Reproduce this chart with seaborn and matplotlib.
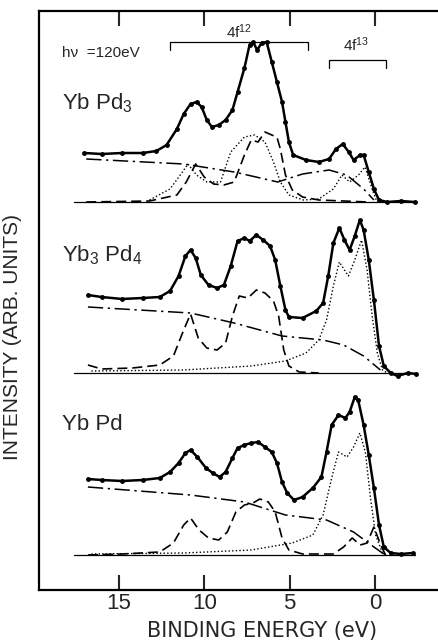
import matplotlib
matplotlib.use("Agg")
import matplotlib.pyplot as plt
import seaborn as sns

sns.set_style("white")
plt.rcParams["font.family"] = ["Liberation Sans", "DejaVu Sans"]
plt.rcParams["mathtext.default"] = "regular"

# ---- YbPd3 (binding energy in eV, intensity above its own baseline) ----
ybpd3_e = [17.0, 16.0, 14.8, 13.6, 12.8, 12.2, 11.6, 11.2, 10.8, 10.45, 10.15, 9.85, 9.55,
           9.15, 8.75, 8.35, 8.05, 7.65, 7.35, 7.15, 6.9, 6.65, 6.35, 6.05, 5.75, 5.45,
           5.25, 5.05, 4.8, 4.05, 3.3, 2.7, 2.3, 1.9, 1.55, 1.27, 0.88, 0.68, 0.38, 0.08,
           -0.22, -0.7, -1.5, -2.3]
ybpd3_i = [49, 48, 49, 49, 51, 57, 73, 88, 98, 100, 95, 82, 75,
           77, 82, 92, 110, 134, 157, 160, 152, 159, 160, 140, 120, 100,
           80, 60, 47, 42, 40, 43, 53, 58, 50, 42, 47, 47, 30, 13,
           2, 0, 1, 0]
ybpd3_dash_e = [16.9, 13.2, 11.6, 11.05, 10.5, 10.0, 9.45, 8.85, 8.25, 7.65, 7.25, 6.85, 6.45,
                6.05, 5.75, 5.55, 5.25, 4.85, 4.25, 3.3, 0.4]
ybpd3_dash_i = [0, 1, 7, 20, 38, 25, 18, 17, 20, 47, 62, 60, 70,
                67, 65, 53, 27, 12, 5, 2, 0]
ybpd3_dot_e = [13.2, 12.0, 11.4, 10.95, 10.45, 9.85, 9.05, 8.45, 7.65, 7.05, 6.45, 5.95, 5.55,
               5.05, 4.2, 3.3, 2.45, 1.95, 1.5, 0.98, 0.6, 0.18, -0.1]
ybpd3_dot_i = [2, 13, 27, 38, 27, 20, 20, 50, 65, 67, 60, 40, 20,
               7, 2, 3, 13, 27, 20, 27, 35, 13, 0]
ybpd3_bg_e = [16.9, 11.2, 8.25, 5.7, 4.25, 2.7, 1.67, 0.68, 0.08]
ybpd3_bg_i = [43, 38, 30, 20, 28, 32, 27, 13, 2]

# ---- Yb3Pd4 ----
yb3pd4_e = [16.8, 16.0, 14.8, 13.6, 12.6, 12.0, 11.5, 11.1, 10.8, 10.5, 10.2, 9.75, 9.25,
            8.85, 8.45, 8.05, 7.65, 7.35, 6.95, 6.55, 6.15, 5.85, 5.55, 5.25, 5.05, 4.25,
            3.45, 3.05, 2.75, 2.45, 2.1, 1.8, 1.5, 1.2, 0.9, 0.68, 0.38, 0.08, -0.22,
            -0.5, -0.9, -1.3, -1.9, -2.4]
yb3pd4_i = [78, 76, 74, 75, 76, 82, 97, 117, 123, 115, 98, 88, 85,
            88, 107, 132, 135, 132, 138, 133, 127, 113, 87, 63, 56, 55,
            62, 70, 97, 130, 145, 133, 123, 137, 153, 143, 113, 73, 27,
            7, 0, -3, 0, -1]
yb3pd4_dash_e = [16.8, 16.0, 14.2, 12.6, 11.8, 11.2, 10.8, 10.35, 9.85, 9.25, 8.75, 8.35, 7.95,
                 7.45, 6.95, 6.45, 5.95, 5.65, 5.35, 5.05, 4.45, 3.3]
yb3pd4_dash_i = [8, 4, 5, 8, 17, 43, 59, 35, 25, 23, 30, 57, 77,
                 75, 83, 80, 72, 57, 23, 7, 1, 0]
yb3pd4_dot_e = [16.6, 11.2, 7.25, 5.25, 4.05, 3.3, 2.85, 2.45, 2.1, 1.57, 1.2, 0.8, 0.48,
                0.18, -0.12, -0.42, -0.7]
yb3pd4_dot_i = [2, 3, 7, 12, 20, 33, 53, 87, 111, 97, 113, 133, 103,
                57, 20, 3, 0]
yb3pd4_bg_e = [16.8, 10.8, 8.25, 5.45, 3.05, 1.85, 0.68, -0.3]
yb3pd4_bg_i = [66, 60, 50, 37, 33, 28, 17, 3]

# ---- YbPd ----
ybpd_e = [16.8, 16.0, 14.8, 13.6, 12.6, 12.0, 11.5, 11.1, 10.8, 10.4, 9.9, 9.5, 9.1,
          8.75, 8.35, 8.05, 7.65, 7.25, 6.85, 6.45, 6.05, 5.75, 5.45, 5.15, 4.75, 4.25,
          3.65, 3.15, 2.85, 2.55, 2.15, 1.75, 1.5, 1.2, 1.0, 0.68, 0.38, 0.08, -0.22,
          -0.5, -0.9, -1.5, -2.2]
ybpd_i = [76, 75, 74, 75, 77, 83, 92, 102, 105, 98, 87, 82, 78,
          83, 97, 107, 110, 112, 113, 108, 103, 92, 73, 62, 55, 58,
          67, 78, 103, 130, 140, 137, 143, 158, 155, 130, 100, 67, 30,
          8, 2, 1, 2]
ybpd_dash_e = [16.8, 14.8, 12.6, 11.8, 11.2, 10.8, 10.3, 9.75, 9.15, 8.65, 8.15, 7.65, 7.15,
               6.75, 6.25, 5.85, 5.45, 5.05, 4.25, 2.45, 1.85, 1.35, 0.88, 0.48, 0.08, -0.32,
               -0.6]
ybpd_dash_i = [0, 1, 3, 12, 30, 37, 25, 17, 15, 23, 43, 50, 52,
               56, 53, 43, 17, 5, 1, 1, 8, 17, 10, 12, 28, 10,
               0]
ybpd_dot_e = [16.6, 11.2, 7.25, 4.85, 3.65, 3.05, 2.55, 2.15, 1.65, 1.27, 0.9, 0.58, 0.28,
              -0.02, -0.42, -0.7]
ybpd_dot_i = [1, 2, 5, 12, 20, 40, 77, 103, 98, 108, 122, 103, 57,
              20, 2, 0]
ybpd_bg_e = [16.8, 10.8, 7.65, 5.25, 2.85, 1.27, 0.08, -0.5]
ybpd_bg_i = [68, 60, 53, 40, 35, 23, 8, 1]

baseline_e = [17.6, -2.3]
x_ticks = [15, 10, 5, 0]

spectra = [
    ("Yb Pd$_3$", 388, ybpd3_e, ybpd3_i, ybpd3_dash_e, ybpd3_dash_i,
     ybpd3_dot_e, ybpd3_dot_i, ybpd3_bg_e, ybpd3_bg_i),
    ("Yb$_3$ Pd$_4$", 217, yb3pd4_e, yb3pd4_i, yb3pd4_dash_e, yb3pd4_dash_i,
     yb3pd4_dot_e, yb3pd4_dot_i, yb3pd4_bg_e, yb3pd4_bg_i),
    ("Yb Pd", 35, ybpd_e, ybpd_i, ybpd_dash_e, ybpd_dash_i,
     ybpd_dot_e, ybpd_dot_i, ybpd_bg_e, ybpd_bg_i),
]
label_y = [487, 335, 165]

fig = plt.figure(figsize=(4.38, 6.4), dpi=100)
ax = fig.add_axes([39 / 438, 50 / 640, 1.02 - 39 / 438, 579 / 640])

for (name, off, e, i, de, di, te, ti, be, bi), ly in zip(spectra, label_y):
    sns.lineplot(x=baseline_e, y=[off, off], ax=ax, color="k", lw=0.9, sort=False, estimator=None)
    sns.lineplot(x=be, y=[v + off for v in bi], ax=ax, color="k", lw=1.1, sort=False,
                 estimator=None, linestyle=(0, (10, 3, 1.5, 3)))
    sns.lineplot(x=de, y=[v + off for v in di], ax=ax, color="k", lw=1.2, sort=False,
                 estimator=None, linestyle=(0, (6, 3)))
    sns.lineplot(x=te, y=[v + off for v in ti], ax=ax, color="k", lw=1.0, sort=False,
                 estimator=None, linestyle=(0, (1, 1.6)))
    sns.lineplot(x=e, y=[v + off for v in i], ax=ax, color="k", lw=1.8, sort=False,
                 estimator=None, marker="o", markersize=3.5, markeredgewidth=0)
    ax.text(18.3, ly, name, fontsize=16, ha="left", va="center")

# 4f brackets
ax.plot([12.0, 12.0, 3.95, 3.95], [540, 548, 548, 540], color="k", lw=0.9)
ax.plot([2.7, 2.7, -0.6, -0.6], [522, 530, 530, 522], color="k", lw=0.9)
ax.text(7.95, 558, "4f$^{12}$", fontsize=11, ha="center", va="center")
ax.text(1.1, 545, "4f$^{13}$", fontsize=11, ha="center", va="center")
ax.text(18.3, 537, "h\u03bd  =120eV", fontsize=11, ha="left", va="center")

ax.set_xlim(19.66, -4.18)
ax.set_ylim(0, 579)
ax.set_xticks(x_ticks)
ax.set_xticklabels([str(t) for t in x_ticks], fontsize=16)
ax.set_yticks([])
ax.tick_params(axis="x", which="both", direction="in", length=11, width=1.5,
               top=True, bottom=True, labeltop=False, pad=2)
for side in ["left", "top", "bottom"]:
    ax.spines[side].set_linewidth(1.6)
    ax.spines[side].set_color("k")
ax.spines["right"].set_visible(False)

fig.text(262 / 438, 1 - 631 / 640, "BINDING ENERGY (eV)", fontsize=15, ha="center", va="center",
         family=["DejaVu Sans"])
fig.text(13 / 438, 1 - 337 / 640, "INTENSITY (ARB. UNITS)", fontsize=15, rotation=90,
         ha="center", va="center")

fig.savefig("out.png", dpi=100)
